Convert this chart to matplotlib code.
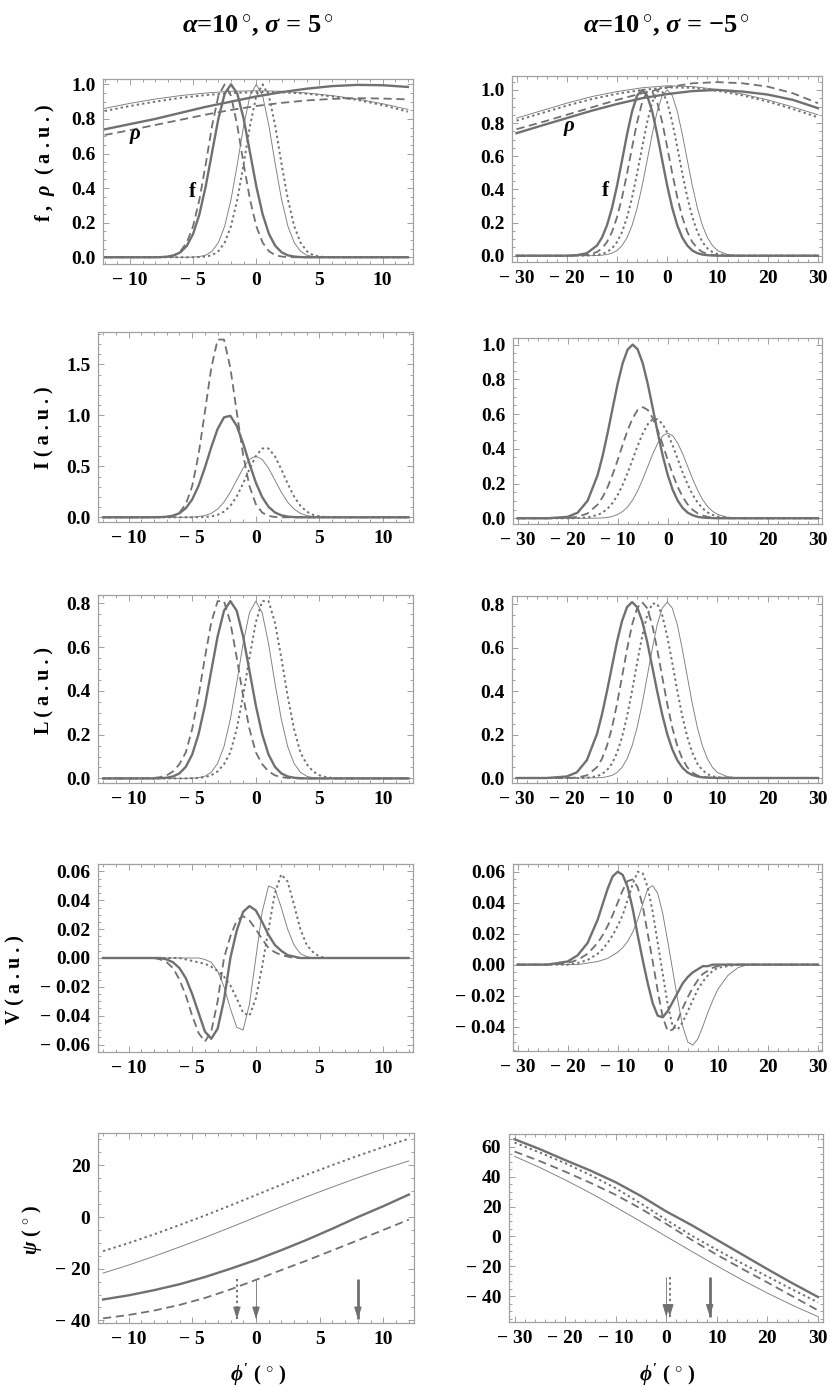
import matplotlib
matplotlib.use('Agg')
import matplotlib.pyplot as plt
from matplotlib.ticker import MultipleLocator

plt.rcParams['font.family'] = ['Liberation Serif', 'DejaVu Serif']
plt.rcParams['font.weight'] = 'bold'
plt.rcParams['mathtext.fontset'] = 'custom'
plt.rcParams['mathtext.rm'] = 'Liberation Serif:bold'
plt.rcParams['mathtext.it'] = 'Liberation Serif:italic:bold'
plt.rcParams['mathtext.bf'] = 'Liberation Serif:bold'

# ---------------- data: left column (alpha=10, sigma=5) ----------------
XL = [-12, -9, -8, -7.5, -7, -6.5, -6, -5.5, -5, -4.5, -4, -3.5, -3, -2.5, -2, -1.5, -1, -0.5,
      0, 0.5, 1, 1.5, 2, 2.5, 3, 3.5, 4, 4.5, 5, 5.5, 6, 7, 9, 12]

F_L_THICK = [0, 0, 0, 0.001, 0.004, 0.011, 0.029, 0.066, 0.135, 0.249, 0.411, 0.607, 0.801, 0.946, 1.0,
             0.946, 0.801, 0.607, 0.411, 0.249, 0.135, 0.066, 0.029, 0.011, 0.004, 0.001, 0, 0, 0, 0, 0, 0, 0, 0]
F_L_THIN = [0, 0, 0, 0, 0, 0, 0, 0, 0.001, 0.004, 0.012, 0.035, 0.085, 0.180, 0.334, 0.539, 0.760, 0.934, 1.0,
            0.934, 0.760, 0.539, 0.334, 0.180, 0.085, 0.035, 0.012, 0.004, 0.001, 0, 0, 0, 0, 0]
F_L_DOT = [0, 0, 0, 0, 0, 0, 0, 0, 0, 0.001, 0.004, 0.012, 0.035, 0.085, 0.180, 0.334, 0.539, 0.760, 0.934, 1.0,
           0.934, 0.760, 0.539, 0.334, 0.180, 0.085, 0.035, 0.012, 0.004, 0.001, 0, 0, 0, 0]
F_L_DASH = [0, 0, 0, 0.001, 0.004, 0.012, 0.035, 0.085, 0.180, 0.334, 0.539, 0.760, 0.934, 1.0,
            0.934, 0.760, 0.539, 0.334, 0.180, 0.085, 0.035, 0.012, 0.004, 0.001, 0, 0, 0, 0, 0, 0, 0, 0, 0, 0]

XRHO_L = [-12, -10, -8, -6, -4, -2, 0, 2, 4, 6, 8, 10, 12]
RHO_L_THICK = [0.74, 0.77, 0.80, 0.835, 0.87, 0.90, 0.93, 0.955, 0.975, 0.99, 0.997, 0.995, 0.985]
RHO_L_DASH = [0.707, 0.735, 0.765, 0.795, 0.825, 0.852, 0.875, 0.893, 0.907, 0.916, 0.92, 0.918, 0.913]
RHO_L_THIN = [0.861, 0.89, 0.915, 0.935, 0.95, 0.96, 0.963, 0.96, 0.95, 0.935, 0.915, 0.888, 0.855]
RHO_L_DOT = [0.846, 0.875, 0.90, 0.922, 0.938, 0.95, 0.955, 0.954, 0.946, 0.93, 0.91, 0.88, 0.842]

I_L_DASH = [0, 0, 0, 0.001, 0.003, 0.014, 0.046, 0.129, 0.306, 0.614, 1.034, 1.465, 1.743, 1.743, 1.465,
            1.034, 0.614, 0.306, 0.129, 0.046, 0.014, 0.003, 0.001, 0, 0, 0, 0, 0, 0, 0, 0, 0, 0, 0]
I_L_THICK = [0, 0, 0.001, 0.002, 0.006, 0.016, 0.040, 0.089, 0.175, 0.309, 0.487, 0.687, 0.867, 0.980, 0.995,
             0.897, 0.726, 0.526, 0.341, 0.198, 0.103, 0.048, 0.020, 0.007, 0.002, 0.001, 0, 0, 0, 0, 0, 0, 0, 0]
I_L_THIN = [0, 0, 0, 0, 0, 0, 0, 0.001, 0.002, 0.007, 0.017, 0.039, 0.081, 0.149, 0.247, 0.364, 0.481, 0.568, 0.6,
            0.568, 0.481, 0.364, 0.247, 0.149, 0.081, 0.039, 0.017, 0.007, 0.002, 0.001, 0, 0, 0, 0]
I_L_DOT = [0, 0, 0, 0, 0, 0, 0, 0, 0, 0.001, 0.003, 0.009, 0.024, 0.056, 0.113, 0.205, 0.331, 0.472, 0.599,
           0.675, 0.675, 0.599, 0.472, 0.331, 0.205, 0.113, 0.056, 0.024, 0.009, 0.003, 0.001, 0, 0, 0]

L_L_THICK = [0, 0, 0, 0.001, 0.003, 0.009, 0.023, 0.053, 0.109, 0.202, 0.333, 0.492, 0.649, 0.766, 0.81,
             0.766, 0.649, 0.492, 0.333, 0.202, 0.109, 0.053, 0.023, 0.009, 0.003, 0.001, 0, 0, 0, 0, 0, 0, 0, 0]
L_L_DASH = [0, 0, 0.002, 0.006, 0.014, 0.032, 0.065, 0.119, 0.226, 0.377, 0.552, 0.713, 0.81, 0.81, 0.713,
            0.552, 0.377, 0.226, 0.119, 0.065, 0.032, 0.014, 0.006, 0.002, 0.001, 0, 0, 0, 0, 0, 0, 0, 0, 0]
L_L_THIN = [0, 0, 0, 0, 0, 0, 0, 0, 0.001, 0.003, 0.010, 0.028, 0.069, 0.146, 0.271, 0.437, 0.616, 0.757, 0.81,
            0.757, 0.616, 0.437, 0.271, 0.146, 0.069, 0.028, 0.010, 0.003, 0.001, 0, 0, 0, 0, 0]
L_L_DOT = [0, 0, 0, 0, 0, 0, 0, 0, 0.001, 0.002, 0.006, 0.014, 0.032, 0.065, 0.119, 0.226, 0.377, 0.552, 0.713,
           0.81, 0.81, 0.713, 0.552, 0.377, 0.226, 0.119, 0.065, 0.032, 0.014, 0.006, 0.002, 0, 0, 0]

V_L_THICK = [0, 0, 0, 0, -0.001, -0.003, -0.007, -0.014, -0.025, -0.038, -0.051, -0.056, -0.049, -0.029, 0,
             0.019, 0.032, 0.036, 0.033, 0.025, 0.016, 0.009, 0.005, 0.002, 0.001, 0, 0, 0, 0, 0, 0, 0, 0, 0]
V_L_DASH = [0, 0, 0, -0.001, -0.003, -0.007, -0.015, -0.026, -0.040, -0.052, -0.058, -0.051, -0.030, 0,
            0.015, 0.026, 0.029, 0.026, 0.020, 0.013, 0.007, 0.004, 0.002, 0.001, 0, 0, 0, 0, 0, 0, 0, 0, 0, 0]
V_L_THIN = [0, 0, 0, 0, 0, 0, 0, 0, 0, 0, -0.001, -0.003, -0.009, -0.020, -0.035, -0.048, -0.050, -0.032, 0,
            0.032, 0.050, 0.048, 0.035, 0.020, 0.009, 0.003, 0.001, 0, 0, 0, 0, 0, 0, 0]
V_L_DOT = [0, 0, 0, 0, 0, 0, 0, -0.001, -0.002, -0.003, -0.004, -0.006, -0.009, -0.013, -0.019, -0.028, -0.038,
           -0.040, -0.028, -0.006, 0.020, 0.045, 0.058, 0.053, 0.037, 0.020, 0.009, 0.004, 0.001, 0, 0, 0, 0, 0]

XPSI_L = [-12, -10, -8, -6, -4, -2, 0, 2, 4, 6, 8, 10, 12]
PSI_L_THIN = [-21.7, -18.6, -15.2, -11.6, -7.9, -4.0, 0, 4.0, 7.9, 11.6, 15.2, 18.6, 21.7]
PSI_L_DOT = [-13.2, -10.1, -6.7, -3.1, 0.6, 4.5, 8.5, 12.5, 16.4, 20.1, 23.7, 27.1, 30.3]
PSI_L_THICK = [-31.9, -30.3, -28.3, -26.0, -23.2, -20.0, -16.6, -12.8, -8.8, -4.5, 0, 4.2, 8.7]
PSI_L_DASH = [-39.2, -37.9, -36.2, -34.0, -31.3, -28.0, -24.3, -20.5, -16.8, -12.9, -9.0, -5.0, -1.0]
ARROW_L_X = [-1.5, 0.0, 8.0]
ARROW_L_KIND = ['dot', 'thin', 'thick']
ARROW_L_Y = [-24.0, -39.5]

# ---------------- data: right column (alpha=10, sigma=-5) ----------------
XR = [-30, -24, -20, -18, -16, -14, -13, -12, -11, -10, -9, -8, -7, -6, -5, -4, -3, -2, -1,
      0, 1, 2, 3, 4, 5, 6, 7, 8, 9, 10, 12, 14, 16, 18, 20, 24, 30]

F_R_THICK = [0, 0, 0, 0.003, 0.015, 0.061, 0.109, 0.183, 0.287, 0.421, 0.575, 0.732, 0.871, 0.966, 1.0, 0.966,
             0.871, 0.732, 0.575, 0.421, 0.287, 0.183, 0.109, 0.061, 0.031, 0.015, 0.007, 0.003, 0.001, 0,
             0, 0, 0, 0, 0, 0, 0]
F_R_DASH = [0, 0, 0, 0.001, 0.005, 0.022, 0.044, 0.082, 0.143, 0.232, 0.351, 0.496, 0.654, 0.805, 0.925, 0.991,
            0.991, 0.925, 0.805, 0.654, 0.496, 0.351, 0.232, 0.143, 0.082, 0.044, 0.022, 0.010, 0.005, 0.002,
            0, 0, 0, 0, 0, 0, 0]
F_R_DOT = [0, 0, 0, 0, 0.001, 0.005, 0.010, 0.022, 0.044, 0.082, 0.143, 0.232, 0.351, 0.496, 0.654, 0.805,
           0.925, 0.991, 0.991, 0.925, 0.805, 0.654, 0.496, 0.351, 0.232, 0.143, 0.082, 0.044, 0.022, 0.010,
           0.002, 0, 0, 0, 0, 0, 0]
F_R_THIN = [0, 0, 0, 0, 0, 0.001, 0.003, 0.007, 0.015, 0.031, 0.061, 0.109, 0.183, 0.287, 0.421, 0.575,
            0.732, 0.871, 0.966, 1.0, 0.966, 0.871, 0.732, 0.575, 0.421, 0.287, 0.183, 0.109, 0.061, 0.031,
            0.007, 0.001, 0, 0, 0, 0, 0]

XRHO_R = [-30, -25, -20, -15, -10, -5, 0, 5, 10, 15, 20, 25, 30]
RHO_R_THICK = [0.739, 0.785, 0.83, 0.875, 0.915, 0.95, 0.975, 0.993, 1.0, 0.99, 0.972, 0.94, 0.89]
RHO_R_DASH = [0.763, 0.805, 0.85, 0.895, 0.94, 0.98, 1.015, 1.04, 1.047, 1.04, 1.02, 0.98, 0.92]
RHO_R_THIN = [0.83, 0.875, 0.92, 0.96, 0.99, 1.013, 1.025, 1.02, 1.003, 0.975, 0.94, 0.897, 0.85]
RHO_R_DOT = [0.815, 0.86, 0.905, 0.945, 0.977, 1.0, 1.015, 1.013, 0.995, 0.967, 0.93, 0.885, 0.835]

I_R_THICK = [0, 0, 0.008, 0.032, 0.101, 0.249, 0.360, 0.492, 0.635, 0.775, 0.893, 0.972, 1.0, 0.972, 0.893,
             0.775, 0.635, 0.492, 0.360, 0.249, 0.163, 0.101, 0.059, 0.032, 0.017, 0.008, 0.004, 0.002, 0.001,
             0, 0, 0, 0, 0, 0, 0, 0]
I_R_DASH = [0, 0, 0.002, 0.008, 0.028, 0.079, 0.122, 0.180, 0.253, 0.335, 0.424, 0.508, 0.577, 0.624, 0.64,
            0.624, 0.577, 0.508, 0.424, 0.335, 0.253, 0.180, 0.122, 0.079, 0.048, 0.028, 0.016, 0.008, 0.004,
            0.002, 0, 0, 0, 0, 0, 0, 0]
I_R_DOT = [0, 0, 0, 0.001, 0.005, 0.019, 0.033, 0.056, 0.089, 0.134, 0.193, 0.262, 0.340, 0.418, 0.488, 0.541,
           0.570, 0.570, 0.541, 0.488, 0.418, 0.340, 0.262, 0.193, 0.134, 0.089, 0.056, 0.033, 0.019, 0.010,
           0.003, 0.001, 0, 0, 0, 0, 0]
I_R_THIN = [0, 0, 0, 0, 0, 0.001, 0.002, 0.005, 0.011, 0.022, 0.039, 0.066, 0.106, 0.159, 0.224, 0.297,
            0.370, 0.432, 0.475, 0.49, 0.475, 0.432, 0.370, 0.297, 0.224, 0.159, 0.106, 0.066, 0.039, 0.022,
            0.005, 0.001, 0, 0, 0, 0, 0]

L_R_THICK = [0, 0, 0.007, 0.026, 0.082, 0.202, 0.292, 0.399, 0.514, 0.628, 0.723, 0.787, 0.81, 0.787, 0.723,
             0.628, 0.514, 0.399, 0.292, 0.202, 0.132, 0.082, 0.048, 0.026, 0.014, 0.007, 0.003, 0.002, 0.001,
             0, 0, 0, 0, 0, 0, 0, 0]
L_R_DASH = [0, 0, 0, 0.002, 0.012, 0.049, 0.088, 0.148, 0.232, 0.341, 0.466, 0.593, 0.706, 0.782, 0.81,
            0.782, 0.706, 0.593, 0.466, 0.341, 0.232, 0.148, 0.088, 0.049, 0.025, 0.012, 0.006, 0.002, 0.001,
            0, 0, 0, 0, 0, 0, 0, 0]
L_R_DOT = [0, 0, 0, 0, 0.001, 0.008, 0.018, 0.036, 0.066, 0.116, 0.188, 0.284, 0.402, 0.530, 0.652, 0.749,
           0.803, 0.803, 0.749, 0.652, 0.530, 0.402, 0.284, 0.188, 0.116, 0.066, 0.036, 0.018, 0.008, 0.004,
           0.001, 0, 0, 0, 0, 0, 0]
L_R_THIN = [0, 0, 0, 0, 0, 0.001, 0.002, 0.006, 0.012, 0.025, 0.049, 0.088, 0.148, 0.232, 0.341, 0.466,
            0.593, 0.706, 0.782, 0.81, 0.782, 0.706, 0.593, 0.466, 0.341, 0.232, 0.148, 0.088, 0.049, 0.025,
            0.006, 0.001, 0, 0, 0, 0, 0]

V_R_THICK = [0, 0, 0.002, 0.006, 0.014, 0.029, 0.039, 0.049, 0.057, 0.060, 0.058, 0.050, 0.036, 0.019, 0.003,
             -0.012, -0.025, -0.033, -0.034, -0.030, -0.024, -0.018, -0.012, -0.008, -0.005, -0.003, -0.001,
             -0.001, 0, 0, 0, 0, 0, 0, 0, 0, 0]
V_R_DASH = [0, 0, 0.001, 0.003, 0.007, 0.014, 0.019, 0.025, 0.032, 0.040, 0.048, 0.054, 0.055, 0.050, 0.038,
            0.020, 0.002, -0.017, -0.034, -0.043, -0.042, -0.036, -0.028, -0.021, -0.015, -0.010, -0.006,
            -0.004, -0.002, -0.001, 0, 0, 0, 0, 0, 0, 0]
V_R_DOT = [0, 0, 0, 0.001, 0.003, 0.007, 0.010, 0.014, 0.019, 0.025, 0.032, 0.042, 0.052, 0.060, 0.059, 0.050,
           0.034, 0.014, -0.006, -0.026, -0.040, -0.042, -0.037, -0.030, -0.023, -0.016, -0.011, -0.007,
           -0.004, -0.002, -0.001, 0, 0, 0, 0, 0, 0]
V_R_THIN = [0, 0, 0, 0, 0.001, 0.002, 0.003, 0.004, 0.006, 0.008, 0.011, 0.015, 0.021, 0.029, 0.039, 0.049,
            0.051, 0.046, 0.033, 0.015, -0.004, -0.023, -0.040, -0.050, -0.052, -0.048, -0.040, -0.031,
            -0.023, -0.016, -0.007, -0.002, 0, 0, 0, 0, 0]

XPSI_R = [-30, -25, -20, -15, -10, -5, 0, 5, 10, 15, 20, 25, 30]
PSI_R_THICK = [64.9, 58.3, 51.0, 44.0, 36.2, 27.0, 16.7, 7.6, -2.2, -12.0, -21.8, -31.3, -40.4]
PSI_R_DOT = [62.7, 56.0, 48.9, 41.0, 32.2, 22.0, 11.1, 0.6, -8.9, -18.0, -26.7, -35.5, -44.0]
PSI_R_DASH = [56.7, 50.3, 43.3, 35.8, 27.8, 18.5, 8.4, -2.2, -12.2, -21.6, -30.7, -40.0, -49.3]
PSI_R_THIN = [53.5, 46.0, 37.8, 29.0, 19.6, 9.9, 0, -9.9, -19.6, -29.0, -37.8, -46.0, -53.5]
ARROW_R_X = [0.0, 0.7, 8.6]
ARROW_R_KIND = ['thin', 'dot', 'thick']
ARROW_R_Y = [-27.0, -53.5]

# curve label positions (data coords in the top panels)
RHO_LBL_L = (-9.6, 0.70)
F_LBL_L = (-5.1, 0.38)
RHO_LBL_R = (-19.4, 0.77)
F_LBL_R = (-12.4, 0.39)

# ---------------- styling ----------------
W, H = 830, 1397
GRAY = '#707070'
GRAY_THIN = '#7c7c7c'
FRAME = '#a0a0a0'
STYLE = {
    'thick': dict(color=GRAY, lw=1.7, ls='-'),
    'thin': dict(color=GRAY_THIN, lw=0.65, ls='-'),
    'dash': dict(color=GRAY, lw=1.3, ls=(0, (4.5, 2.6))),
    'dot': dict(color=GRAY, lw=1.4, ls=(0, (1.2, 1.6))),
}
TICKFS = 14

fig = plt.figure(figsize=(W / 100, H / 100), dpi=100)


def rect(x0, y0, x1, y1):
    return [x0 / W, 1 - y1 / H, (x1 - x0) / W, (y1 - y0) / H]


def fmt(v, nd):
    s = f"{abs(v):.{nd}f}"
    return ("\u2212 " + s) if v < 0 else s


def make_ax(r, xlim, ylim, xt, xnd, xminor, yt, ynd, yminor):
    ax = fig.add_axes(rect(*r))
    ax.set_xlim(*xlim)
    ax.set_ylim(*ylim)
    ax.set_xticks(xt)
    ax.set_xticklabels([fmt(v, xnd) for v in xt])
    ax.set_yticks(yt)
    ax.set_yticklabels([fmt(v, ynd) for v in yt])
    ax.xaxis.set_minor_locator(MultipleLocator(xminor))
    ax.yaxis.set_minor_locator(MultipleLocator(yminor))
    ax.tick_params(which='both', direction='in', top=True, right=True, color=FRAME, width=0.7)
    ax.tick_params(which='major', length=4.5, labelsize=TICKFS, pad=5.5)
    ax.tick_params(which='minor', length=2.3)
    for lab in ax.get_xticklabels() + ax.get_yticklabels():
        lab.set_fontweight('bold')
    for sp in ax.spines.values():
        sp.set_color(FRAME)
        sp.set_linewidth(0.9)
    return ax


def draw4(ax, x, thick, thin, dash, dot):
    ax.plot(x, thin, **STYLE['thin'])
    ax.plot(x, dot, **STYLE['dot'])
    ax.plot(x, dash, **STYLE['dash'])
    ax.plot(x, thick, **STYLE['thick'])


def arrows(ax, xs, kinds, ys):
    for x, k in zip(xs, kinds):
        st = dict(STYLE[k])
        if k == 'thick':
            st['lw'] = 2.0
        ax.plot([x, x], ys, **st, solid_capstyle='butt')
        ax.annotate('', xy=(x, ys[1]), xytext=(0, 9), textcoords='offset points',
                    arrowprops=dict(arrowstyle='-|>,head_length=0.55,head_width=0.17',
                                    color=GRAY, lw=0.6, mutation_scale=14,
                                    shrinkA=0, shrinkB=0))


XT_L = [-10, -5, 0, 5, 10]
XT_R = [-30, -20, -10, 0, 10, 20, 30]

# ---- left column ----
ax = make_ax((103, 79, 413, 264), (-12.13, 12.4), (-0.039, 1.031), XT_L, 0, 1,
             [0, 0.2, 0.4, 0.6, 0.8, 1.0], 1, 0.05)
draw4(ax, XL, F_L_THICK, F_L_THIN, F_L_DASH, F_L_DOT)
draw4(ax, XRHO_L, RHO_L_THICK, RHO_L_THIN, RHO_L_DASH, RHO_L_DOT)
ax.text(*RHO_LBL_L, r'$\rho$', fontsize=15, ha='center', va='center')
ax.text(*F_LBL_L, 'f', fontsize=15, ha='center', va='center', fontweight='bold')

ax = make_ax((98, 332, 413, 522), (-12.4, 12.35), (-0.046, 1.817), XT_L, 0, 1,
             [0, 0.5, 1.0, 1.5], 1, 0.1)
draw4(ax, XL, I_L_THICK, I_L_THIN, I_L_DASH, I_L_DOT)

ax = make_ax((98, 595, 413, 783), (-12.4, 12.35), (-0.021, 0.838), XT_L, 0, 1,
             [0, 0.2, 0.4, 0.6, 0.8], 1, 0.05)
draw4(ax, XL, L_L_THICK, L_L_THIN, L_L_DASH, L_L_DOT)

ax = make_ax((98, 864, 413, 1052), (-12.4, 12.35), (-0.0652, 0.0652), XT_L, 0, 1,
             [-0.06, -0.04, -0.02, 0, 0.02, 0.04, 0.06], 2, 0.005)
draw4(ax, XL, V_L_THICK, V_L_THIN, V_L_DASH, V_L_DOT)

ax = make_ax((98, 1133, 414, 1323), (-12.4, 12.4), (-41.0, 32.5), XT_L, 0, 1,
             [-40, -20, 0, 20], 0, 5)
draw4(ax, XPSI_L, PSI_L_THICK, PSI_L_THIN, PSI_L_DASH, PSI_L_DOT)
arrows(ax, ARROW_L_X, ARROW_L_KIND, ARROW_L_Y)

# ---- right column ----
ax = make_ax((512, 76, 822, 262), (-30.9, 30.8), (-0.038, 1.084), XT_R, 0, 2,
             [0, 0.2, 0.4, 0.6, 0.8, 1.0], 1, 0.05)
draw4(ax, XR, F_R_THICK, F_R_THIN, F_R_DASH, F_R_DOT)
draw4(ax, XRHO_R, RHO_R_THICK, RHO_R_THIN, RHO_R_DASH, RHO_R_DOT)
ax.text(*RHO_LBL_R, r'$\rho$', fontsize=15, ha='center', va='center')
ax.text(*F_LBL_R, 'f', fontsize=15, ha='center', va='center', fontweight='bold')

ax = make_ax((513, 338, 822, 524), (-30.9, 30.8), (-0.033, 1.038), XT_R, 0, 2,
             [0, 0.2, 0.4, 0.6, 0.8, 1.0], 1, 0.05)
draw4(ax, XR, I_R_THICK, I_R_THIN, I_R_DASH, I_R_DOT)

ax = make_ax((512, 596, 822, 783), (-30.9, 30.8), (-0.023, 0.838), XT_R, 0, 2,
             [0, 0.2, 0.4, 0.6, 0.8], 1, 0.05)
draw4(ax, XR, L_R_THICK, L_R_THIN, L_R_DASH, L_R_DOT)

ax = make_ax((513, 864, 822, 1051), (-30.9, 30.8), (-0.0558, 0.065), XT_R, 0, 2,
             [-0.04, -0.02, 0, 0.02, 0.04, 0.06], 2, 0.005)
draw4(ax, XR, V_R_THICK, V_R_THIN, V_R_DASH, V_R_DOT)

ax = make_ax((509, 1134, 823, 1322), (-31.1, 31.0), (-57.1, 68.4), XT_R, 0, 2,
             [-40, -20, 0, 20, 40, 60], 0, 5)
draw4(ax, XPSI_R, PSI_R_THICK, PSI_R_THIN, PSI_R_DASH, PSI_R_DOT)
arrows(ax, ARROW_R_X, ARROW_R_KIND, ARROW_R_Y)

# ---- titles & labels ----
def ftext(x, y, s, **kw):
    fig.text(x / W, 1 - y / H, s, ha='center', va='center', fontweight='bold', **kw)


ftext(258, 26, r'$\alpha$=10$\,^{\circ}$, $\sigma$ = 5$\,^{\circ}$', fontsize=19)
ftext(667, 26, r'$\alpha$=10$\,^{\circ}$, $\sigma$ = $-$5$\,^{\circ}$', fontsize=19)
ftext(45, 163, r'f ,  $\rho$  ( a . u . )', fontsize=14.5, rotation=90)
ftext(44, 428, 'I ( a . u . )', fontsize=14.5, rotation=90)
ftext(44, 690, 'L ( a . u . )', fontsize=14.5, rotation=90)
ftext(15, 980, 'V ( a . u . )', fontsize=14.5, rotation=90)
ftext(32, 1230, r'$\psi$ ( $^{\circ}$ )', fontsize=14.5, rotation=90)
ftext(258, 1375, r"$\phi'$ ( $^{\circ}$ )", fontsize=15)
ftext(667, 1375, r"$\phi'$ ( $^{\circ}$ )", fontsize=15)

fig.savefig('out.png', dpi=100)
